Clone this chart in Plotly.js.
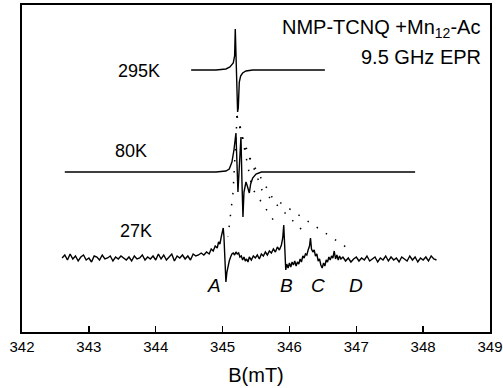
<!DOCTYPE html>
<html>
<head>
<meta charset="utf-8">
<script src="https://cdn.plot.ly/plotly-3.0.1.min.js"></script>
<style>html,body{margin:0;padding:0;background:#fff;}#chart{width:503px;height:388px;}</style>
</head>
<body>
<div id="chart"></div>
<script>
// ---- Data (field in mT, signal in arbitrary derivative units) ----
const field295 = [344.53, 344.90, 345.05, 345.11, 345.16, 345.18, 345.19, 345.20, 345.21, 345.22, 345.225, 345.235, 345.25, 345.27, 345.30, 345.35, 345.45, 346.53];
const signal295 = [0, 0, 1, 3, 7, 14, 41, 20, 0, -30, -42, -38, -12, -6, -3, -1, 0, 0];

const field80 = [342.64, 344.90, 345.05, 345.10, 345.14, 345.17, 345.20, 345.215, 345.23, 345.25, 345.275, 345.29, 345.305, 345.32, 345.35, 345.37, 345.40, 345.42, 345.45, 345.50, 345.58, 347.88];
const signal80 = [0, 0, 1, 3, 10, 22, 39, 10, -20, 5, 35, -10, -45, -20, -10, -14, -21, -12, -6, -2, 0, 0];

const field27 = [
  342.60,342.64,342.68,342.72,342.76,342.80,342.84,342.88,342.92,342.96,
  343.00,343.04,343.08,343.12,343.16,343.20,343.24,343.28,343.32,343.36,
  343.40,343.44,343.48,343.52,343.56,343.60,343.64,343.68,343.72,343.76,
  343.80,343.84,343.88,343.92,343.96,344.00,344.04,344.08,344.12,344.16,
  344.20,344.24,344.28,344.32,344.36,344.40,344.44,344.48,344.52,344.56,
  344.60,344.64,344.68,
  344.72,344.76,344.80,344.83,344.86,344.89,344.92,344.94,344.96,344.98,
  345.00,345.01,345.02,345.035,345.05,345.065,345.08,345.10,345.12,345.14,
  345.16,345.18,345.20,345.22,345.24,345.26,345.28,345.30,345.32,345.34,
  345.36,345.38,345.40,345.43,345.46,345.49,345.52,345.55,345.58,345.61,
  345.64,345.67,345.70,345.73,345.76,345.79,345.82,345.85,345.88,345.90,
  345.915,345.93,345.945,345.96,345.98,346.00,346.02,346.04,346.06,346.08,
  346.10,346.12,346.14,346.16,346.18,346.20,346.22,346.24,346.26,346.28,
  346.30,346.315,346.33,346.35,346.37,346.39,346.41,346.43,346.45,346.47,
  346.49,346.51,346.53,346.55,346.57,346.59,346.61,346.63,346.65,346.67,
  346.69,346.71,346.73,346.75,346.77,346.80,
  346.84,346.88,346.92,346.96,347.00,347.04,347.08,347.12,347.16,347.20,
  347.24,347.28,347.32,347.36,347.40,347.44,347.48,347.52,347.56,347.60,
  347.64,347.68,347.72,347.76,347.80,347.84,347.88,347.92,347.96,348.00,
  348.04,348.08,348.12,348.16,348.20
];
const signal27 = [
  0,3,-2,4,-1,2,-3,1,3,-2,
  0,-4,2,1,-2,3,-1,0,2,-3,
  1,-1,2,0,-2,1,-3,2,-1,0,
  3,-2,1,-1,2,-2,4,-1,3,-2,
  1,4,-3,2,0,3,-1,2,-2,4,
  2,3,5,
  3,6,4,9,7,12,10,16,14,21,
  27,30,22,-5,-24,-14,-8,-3,1,4,
  5,3,6,4,5,1,2,-2,1,-3,
  -1,-4,1,-2,2,0,3,-1,4,2,
  6,3,7,5,9,6,11,8,13,20,
  33,12,-12,-6,-10,-5,-9,-4,-7,-3,
  -8,-4,-6,-1,-4,2,0,4,3,8,
  12,20,9,6,8,2,4,-3,-1,-7,
  -10,-5,-8,-2,-4,1,-2,2,0,7,
  -1,3,-2,2,-1,1,
  -3,0,-4,-1,1,-3,0,-2,2,-3,
  -1,1,-4,0,-2,2,-3,1,-2,0,
  -4,1,-1,-3,2,-2,1,-4,0,-2,
  1,-3,2,-1,-2
];

const tickVals = [342, 343, 344, 345, 346, 347, 348, 349];
const tempLabels = ['295K', '80K', '27K'];
const peakLabels = ['A', 'B', 'C', 'D'];

// dotted guide lines linking features (field mT, plot y units)
const guideAx = [345.217, 345.157, 345.081], guideAy = [216, 140, 95];
const guideBx = [345.217, 345.269, 345.440, 345.829], guideBy = [216, 204, 144, 105];
const guideCx = [345.217, 345.305, 345.590, 346.203], guideCy = [216, 193, 142, 101];
const guideDx = [345.217, 345.350, 345.739, 346.846], guideDy = [216, 180, 135, 85];

// ---- layout / drawing ----
const offsets = [262, 160, 74];
const shift = (arr, off) => arr.map(v => v + off);
const font = 'Liberation Sans, Arial, sans-serif';

const traces = [];
[[guideAx, guideAy], [guideBx, guideBy], [guideCx, guideCy], [guideDx, guideDy]].forEach(g => {
  traces.push({x: g[0], y: g[1], mode: 'lines', line: {color: '#000', width: 1.5, dash: '1.5px,9.5px'}, hoverinfo: 'skip', showlegend: false});
});
[[field295, signal295], [field80, signal80], [field27, signal27]].forEach((s, i) => {
  traces.push({x: s[0], y: shift(s[1], offsets[i]), mode: 'lines', line: {color: '#000', width: 1.4}, showlegend: false});
});

const labelPos = [[343.75, 261], [343.63, 181], [343.70, 101]];
const peakPos = [[344.872, 47], [345.962, 47], [346.427, 47], [346.996, 47]];
const annotations = [];
tempLabels.forEach((t, i) => annotations.push({x: labelPos[i][0], y: labelPos[i][1], text: t, showarrow: false, font: {family: font, size: 18, color: '#000'}}));
peakLabels.forEach((t, i) => annotations.push({x: peakPos[i][0], y: peakPos[i][1], text: '<i>' + t + '</i>', showarrow: false, font: {family: font, size: 19, color: '#000'}}));
annotations.push({x: 348.88, y: 304, xanchor: 'right', text: 'NMP-TCNQ +Mn<sub>12</sub>-Ac', showarrow: false, font: {family: font, size: 20, color: '#000'}});
annotations.push({x: 348.90, y: 275, xanchor: 'right', text: '9.5 GHz EPR', showarrow: false, font: {family: font, size: 20, color: '#000'}});

const layout = {
  width: 503, height: 388,
  margin: {l: 22, r: 13, t: 5, b: 56},
  paper_bgcolor: '#fff', plot_bgcolor: '#fff',
  showlegend: false,
  xaxis: {
    range: [342, 349], tickvals: tickVals, ticktext: tickVals.map(String),
    ticks: 'inside', ticklen: 6, tickwidth: 1.5, tickcolor: '#000',
    showline: true, linecolor: '#000', linewidth: 1.8, mirror: true,
    showgrid: false, zeroline: false,
    tickfont: {family: font, size: 15, color: '#000'},
    title: {text: 'B(mT)', font: {family: font, size: 20, color: '#000'}, standoff: 14}
  },
  yaxis: {
    range: [0, 327], showticklabels: false, ticks: '',
    showline: true, linecolor: '#000', linewidth: 1.8, mirror: true,
    showgrid: false, zeroline: false
  },
  annotations: annotations
};

Plotly.newPlot('chart', traces, layout, {displayModeBar: false, staticPlot: true});
</script>
</body>
</html>
